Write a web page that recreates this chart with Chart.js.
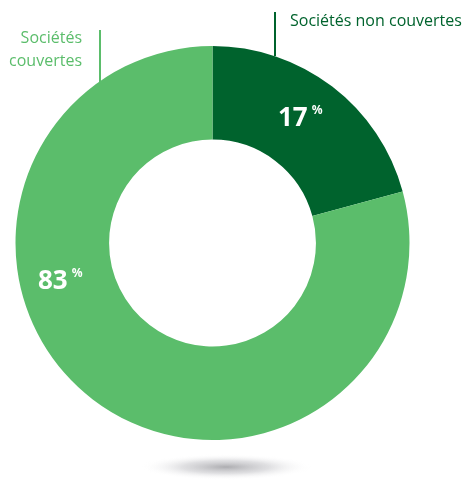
<!DOCTYPE html>
<html>
<head>
<meta charset="utf-8">
<script src="https://cdn.jsdelivr.net/npm/chart.js@4"></script>
<style>
  html, body { margin:0; padding:0; background:#fff; }
  #wrap { width:467px; height:484px; position:relative; }
</style>
</head>
<body>
<div id="wrap"><canvas id="chart" width="467" height="484"></canvas></div>
<script>
// data
const categories = ['Sociétés non couvertes', 'Sociétés couvertes'];
// printed percentages
const shares = [17, 83];
// arc sizes as drawn in the picture (the dark slice ends near 75 degrees)
const arcValues = [20.8, 79.2];
const colors = ['#00632d', '#5bbd6b'];

// labels, shadow and leader lines
const decor = {
    id: 'decor',
    beforeDraw(chart){
        const c = chart.ctx;
        c.save();
        c.translate(226, 467);
        c.scale(1, 0.15);
        const g = c.createRadialGradient(0, 0, 0, 0, 0, 86);
        g.addColorStop(0, 'rgba(145,145,150,0.75)');
        g.addColorStop(0.5, 'rgba(185,185,190,0.45)');
        g.addColorStop(1, 'rgba(255,255,255,0)');
        c.fillStyle = g;
        c.beginPath();
        c.arc(0, 0, 86, 0, Math.PI*2);
        c.fill();
        c.restore();
    },
    afterDraw(chart){
        const c = chart.ctx;
        c.save();
        // leader lines
        c.lineWidth = 2;
        c.strokeStyle = colors[0];
        c.beginPath(); c.moveTo(275, 12); c.lineTo(275, 56); c.stroke();
        c.strokeStyle = colors[1];
        c.beginPath(); c.moveTo(100, 30); c.lineTo(100, 82); c.stroke();

        // category names
        c.font = '16px "Open Sans", sans-serif';
        c.textBaseline = 'alphabetic';
        c.fillStyle = colors[0];
        c.textAlign = 'left';
        c.fillText(categories[0], 290, 26);
        c.fillStyle = colors[1];
        c.textAlign = 'right';
        c.fillText('Sociétés', 82, 43);
        c.fillText('couvertes', 82, 66);

        // percentages
        c.fillStyle = '#fff';
        const pct = (val, x, y) => {
            c.font = 'bold 26px "Noto Sans", sans-serif';
            c.textAlign = 'left';
            c.fillText(String(val), x, y);
            const w = c.measureText(String(val)).width;
            c.font = 'bold 12px "Noto Sans", sans-serif';
            c.fillText('%', x + w + 4, y - 12);
        };
        pct(shares[0], 278, 126);
        pct(shares[1], 38, 289);
        c.restore();
    }
};

new Chart(document.getElementById('chart'), {
    type: 'doughnut',
    data: {
        labels: categories,
        datasets: [{ data: arcValues, backgroundColor: colors, borderWidth: 0, hoverOffset: 0 }]
    },
    options: {
        responsive: false,
        animation: false,
        cutout: '52.5%',
        layout: { padding: { left: 15, right: 57, top: 46, bottom: 44 } },
        plugins: { legend: { display: false }, tooltip: { enabled: false } }
    },
    plugins: [decor]
});
</script>
</body>
</html>
